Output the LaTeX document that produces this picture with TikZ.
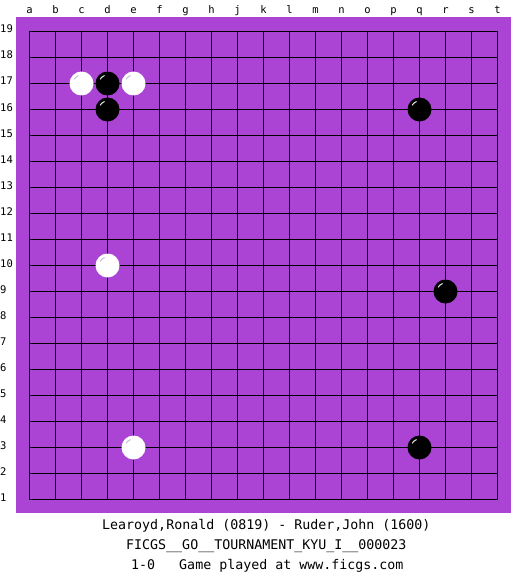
\documentclass[tikz,border=0pt]{standalone}
\usepackage{fontspec}
\setmonofont{DejaVu Sans Mono}
\definecolor{boardpurple}{RGB}{171,67,212}
\definecolor{hlwhite}{RGB}{200,190,215}
\definecolor{hlblack}{RGB}{235,235,235}
\begin{document}
\begin{tikzpicture}[x=1pt,y=-1pt,
  coordlabel/.style={font=\fontsize{10.5}{12}\selectfont\ttfamily, inner sep=0pt},
  infoline/.style={font=\fontsize{13.3}{15}\selectfont\ttfamily, inner sep=0pt, anchor=base west},
  gridline/.style={line width=1pt, black},
  stoneblack/.style={circle, fill=black, minimum size=24pt, inner sep=0pt},
  stonewhite/.style={circle, fill=white, minimum size=24pt, inner sep=0pt}]
\useasboundingbox (0,0) rectangle (525,575);
\fill[white] (0,0) rectangle (525,575);
\fill[boardpurple] (16,17) rectangle (511,513);
% grid
\foreach \i in {0,...,18}{
  \draw[gridline] ({29.5+26*\i},31.5) -- ({29.5+26*\i},499.5);
  \draw[gridline] (29.5,{31.5+26*\i}) -- (497.5,{31.5+26*\i});
}
% column letters
\foreach \l [count=\c from 0] in {a,b,c,d,e,f,g,h,j,k,l,m,n,o,p,q,r,s,t}{
  \node[coordlabel, anchor=base] (col\c) at ({29.5+26*\c},13.5) {\l};
}
% row numbers
\foreach \r in {1,...,19}{
  \node[coordlabel, anchor=base west] (row\r) at (0,{31.5+26*(19-\r)+1.5}) {\r};
}
% stones
\foreach \name/\c/\r/\col in {c17/2/17/white, d17/3/17/black, e17/4/17/white, d16/3/16/black,
  q16/15/16/black, d10/3/10/white, r9/16/9/black, e3/4/3/white, q3/15/3/black}{
  \node[stone\col] (\name) at ({29.5+26*\c},{31.5+26*(19-\r)}) {};
}
\foreach \name in {c17,e17,d10,e3}{
  \draw[hlwhite, line width=1pt] ([shift={(210:8.5)}]\name.center) arc[start angle=210, end angle=250, radius=8.5];
}
\foreach \name in {d17,d16,q16,r9,q3}{
  \draw[hlblack, line width=1pt] ([shift={(210:8.5)}]\name.center) arc[start angle=210, end angle=250, radius=8.5];
}
% info lines
\node[infoline] (info1) at (102,529.5) {Learoyd,Ronald (0819) - Ruder,John (1600)};
\node[infoline] (info2) at (126,549.5) {FICGS\_\_GO\_\_TOURNAMENT\_KYU\_I\_\_000023};
\node[infoline] (info3) at (131,569.5) {1-0\ \ \ Game played at www.ficgs.com};
\end{tikzpicture}
\end{document}
